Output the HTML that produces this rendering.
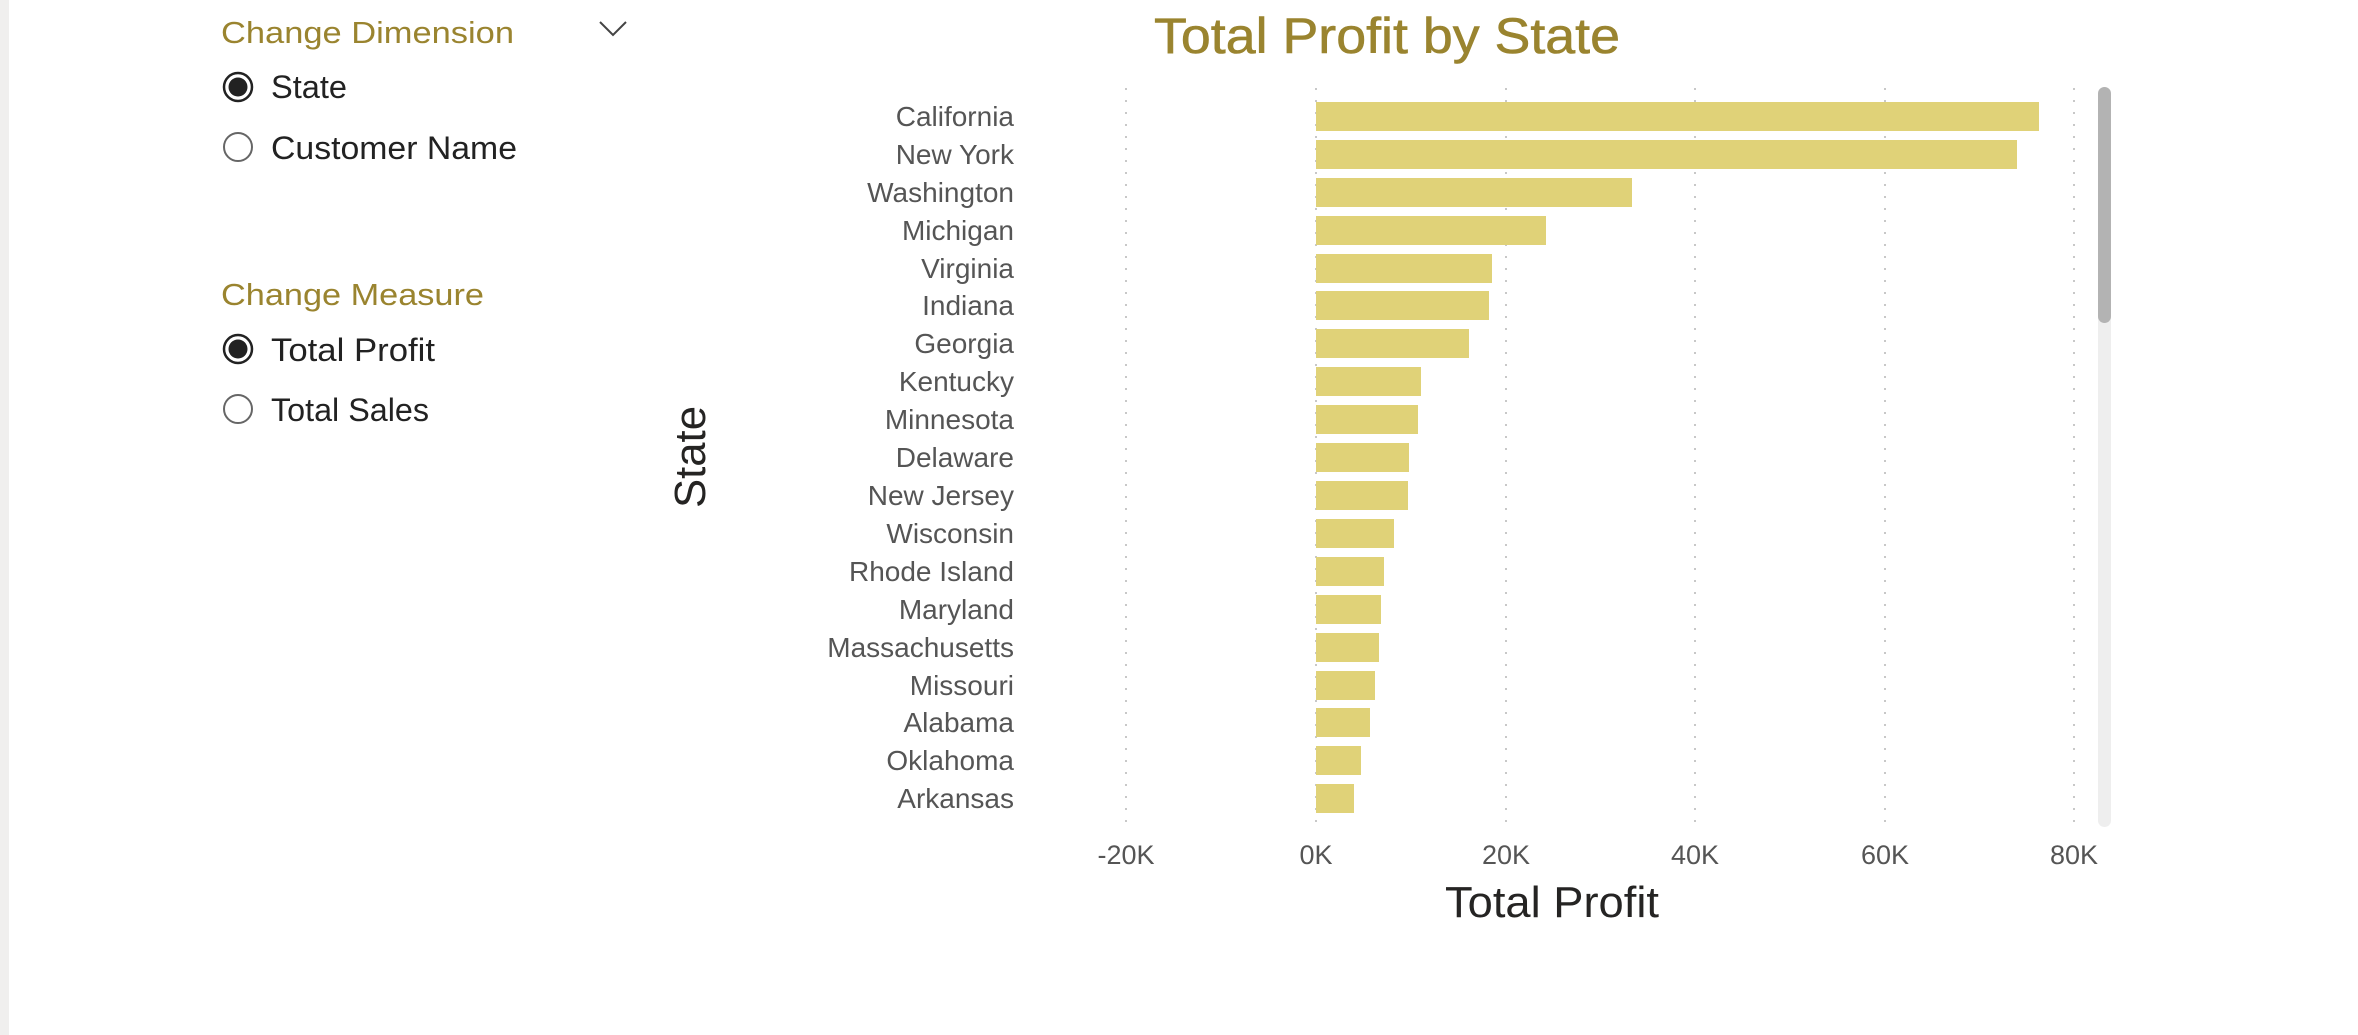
<!DOCTYPE html>
<html><head><meta charset="utf-8"><style>
html,body{margin:0;padding:0;background:#fff;}
svg{display:block;}
text{font-family:"Liberation Sans",sans-serif;}
</style></head><body>
<svg width="2358" height="1035" viewBox="0 0 2358 1035" xmlns="http://www.w3.org/2000/svg">
<rect x="0" y="0" width="2358" height="1035" fill="#fff"/>
<rect x="0" y="0" width="9" height="1035" fill="#f0efee"/>

<!-- Slicers -->
<text x="221" y="43" font-size="31" fill="#9a842f" textLength="293" lengthAdjust="spacingAndGlyphs">Change Dimension</text>
<polyline points="600,22 613,35 626,22" fill="none" stroke="#444" stroke-width="2"/>
<circle cx="238" cy="87" r="14" fill="#fff" stroke="#222" stroke-width="2.5"/>
<circle cx="238" cy="87" r="9.5" fill="#222"/>
<text x="271" y="98" font-size="32" fill="#222" textLength="76" lengthAdjust="spacingAndGlyphs">State</text>
<circle cx="238" cy="147" r="14" fill="#fff" stroke="#666" stroke-width="2"/>
<text x="271" y="159" font-size="32" fill="#222" textLength="246" lengthAdjust="spacingAndGlyphs">Customer Name</text>

<text x="221" y="305" font-size="31" fill="#9a842f" textLength="263" lengthAdjust="spacingAndGlyphs">Change Measure</text>
<circle cx="238" cy="349" r="14" fill="#fff" stroke="#222" stroke-width="2.5"/>
<circle cx="238" cy="349" r="9.5" fill="#222"/>
<text x="271" y="361" font-size="32" fill="#222" textLength="164" lengthAdjust="spacingAndGlyphs">Total Profit</text>
<circle cx="238" cy="409" r="14" fill="#fff" stroke="#666" stroke-width="2"/>
<text x="271" y="421" font-size="32" fill="#222" textLength="158" lengthAdjust="spacingAndGlyphs">Total Sales</text>

<!-- Title -->
<text x="1154" y="53" font-size="50" fill="#9a842f" stroke="#9a842f" stroke-width="0.6" textLength="466" lengthAdjust="spacingAndGlyphs">Total Profit by State</text>

<!-- Gridlines -->
<g stroke="#c8c8c8" stroke-width="2" stroke-dasharray="2,10">
<line x1="1126" y1="88" x2="1126" y2="824"/>
<line x1="1316" y1="88" x2="1316" y2="824"/>
<line x1="1506" y1="88" x2="1506" y2="824"/>
<line x1="1695" y1="88" x2="1695" y2="824"/>
<line x1="1885" y1="88" x2="1885" y2="824"/>
<line x1="2074" y1="88" x2="2074" y2="824"/>
</g>

<!-- Bars -->
<g fill="#e0d278">
<rect x="1316" y="102" width="723" height="29"/>
<rect x="1316" y="140" width="701" height="29"/>
<rect x="1316" y="178" width="316" height="29"/>
<rect x="1316" y="216" width="230" height="29"/>
<rect x="1316" y="254" width="176" height="29"/>
<rect x="1316" y="291" width="173" height="29"/>
<rect x="1316" y="329" width="153" height="29"/>
<rect x="1316" y="367" width="105" height="29"/>
<rect x="1316" y="405" width="102" height="29"/>
<rect x="1316" y="443" width="93" height="29"/>
<rect x="1316" y="481" width="92" height="29"/>
<rect x="1316" y="519" width="78" height="29"/>
<rect x="1316" y="557" width="68" height="29"/>
<rect x="1316" y="595" width="65" height="29"/>
<rect x="1316" y="633" width="63" height="29"/>
<rect x="1316" y="671" width="59" height="29"/>
<rect x="1316" y="708" width="54" height="29"/>
<rect x="1316" y="746" width="45" height="29"/>
<rect x="1316" y="784" width="38" height="29"/>
</g>

<!-- Category labels -->
<g font-size="28" fill="#555" text-anchor="end">
<text x="1014" y="126">California</text>
<text x="1014" y="164">New York</text>
<text x="1014" y="202">Washington</text>
<text x="1014" y="240">Michigan</text>
<text x="1014" y="278">Virginia</text>
<text x="1014" y="315">Indiana</text>
<text x="1014" y="353">Georgia</text>
<text x="1014" y="391">Kentucky</text>
<text x="1014" y="429">Minnesota</text>
<text x="1014" y="467">Delaware</text>
<text x="1014" y="505">New Jersey</text>
<text x="1014" y="543">Wisconsin</text>
<text x="1014" y="581">Rhode Island</text>
<text x="1014" y="619">Maryland</text>
<text x="1014" y="657">Massachusetts</text>
<text x="1014" y="695">Missouri</text>
<text x="1014" y="732">Alabama</text>
<text x="1014" y="770">Oklahoma</text>
<text x="1014" y="808">Arkansas</text>
</g>

<!-- X ticks -->
<g font-size="27" fill="#555" text-anchor="middle">
<text x="1126" y="864">-20K</text>
<text x="1316" y="864">0K</text>
<text x="1506" y="864">20K</text>
<text x="1695" y="864">40K</text>
<text x="1885" y="864">60K</text>
<text x="2074" y="864">80K</text>
</g>

<text x="1445" y="917" font-size="44" fill="#252423" textLength="214" lengthAdjust="spacingAndGlyphs">Total Profit</text>
<text transform="translate(705,508) rotate(-90)" font-size="44" fill="#252423" textLength="102" lengthAdjust="spacingAndGlyphs">State</text>

<!-- Scrollbar -->
<rect x="2098" y="87" width="13" height="740" rx="6.5" fill="#eeeeee"/>
<rect x="2098" y="87" width="13" height="236" rx="6.5" fill="#b3b3b3"/>
</svg>
</body></html>
